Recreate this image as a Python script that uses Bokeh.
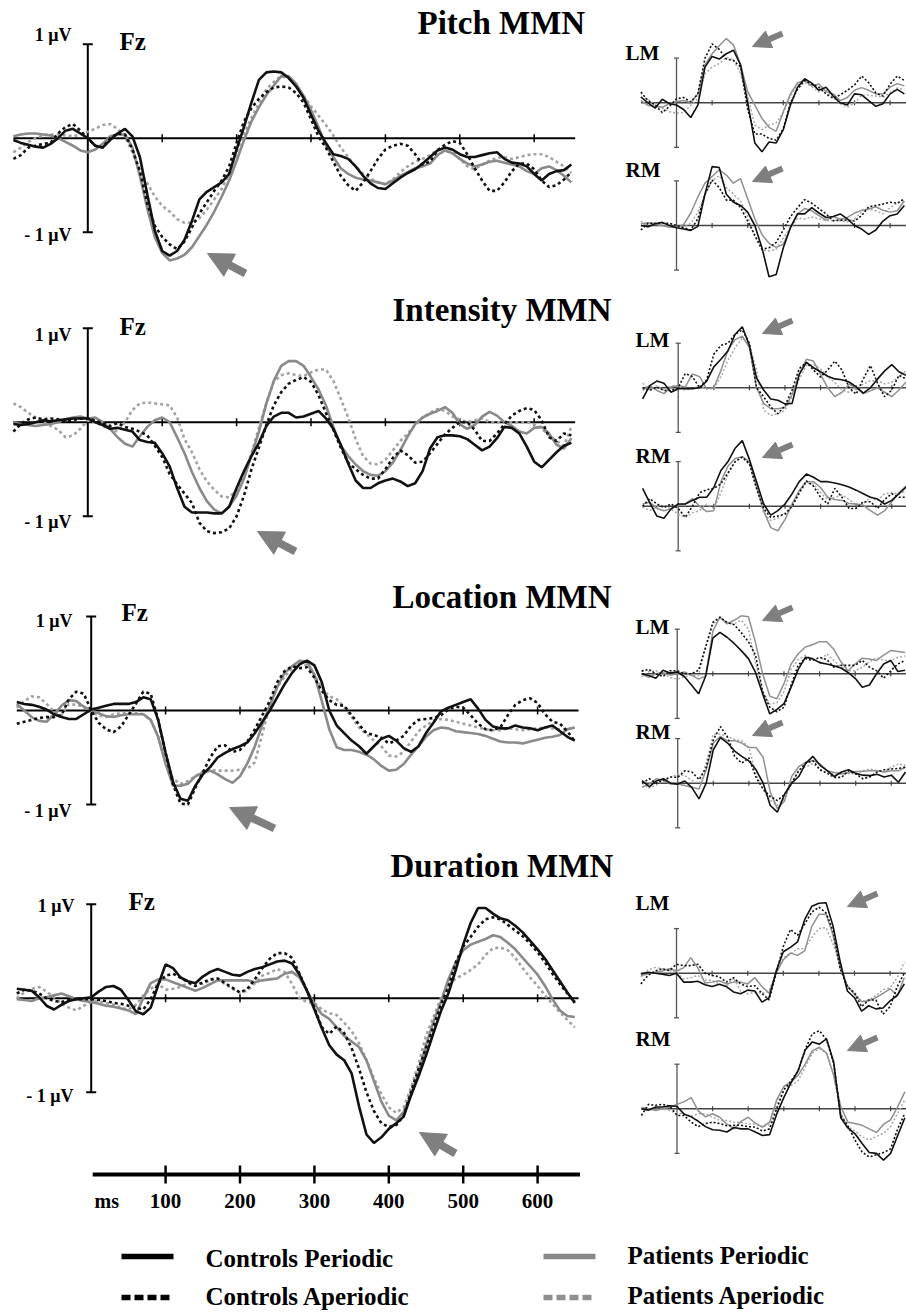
import numpy as np
from bokeh.plotting import figure
from bokeh.models import Range1d, Arrow, NormalHead
from bokeh.embed import file_html
from bokeh.resources import INLINE
from bokeh.core.properties import value

W, H = 906, 1313

# ---------------- time bases (ms) ----------------
T_MAIN = list(range(-100, 651, 10))   # Fz panels
T_SIDE = list(range(-100, 641, 20))   # LM / RM panels
MAIN_TICKS = [100, 200, 300, 400, 500, 600]
BOTTOM_TICK_LABELS = ["100", "200", "300", "400", "500", "600"]
GROUPS = ["Controls Periodic", "Controls Aperiodic", "Patients Periodic", "Patients Aperiodic"]
CONDITIONS = ["Pitch", "Intensity", "Location", "Duration"]

# ---------------- Fz waveforms (µV) ----------------
PITCH_CP = [-0.02,-0.05,-0.07,-0.09,-0.1,-0.06,0.0,0.08,0.1,0.05,
            0.0,-0.08,-0.1,-0.02,0.05,0.1,0.02,-0.2,-0.6,-0.98,
            -1.2,-1.25,-1.2,-1.08,-0.88,-0.65,-0.57,-0.52,-0.47,-0.38,
            -0.12,0.12,0.38,0.62,0.7,0.71,0.7,0.64,0.55,0.43,
            0.25,0.08,-0.05,-0.17,-0.19,-0.22,-0.3,-0.4,-0.48,-0.53,
            -0.54,-0.48,-0.42,-0.37,-0.33,-0.27,-0.2,-0.13,-0.1,-0.12,
            -0.17,-0.2,-0.2,-0.18,-0.16,-0.15,-0.22,-0.26,-0.27,-0.3,
            -0.38,-0.45,-0.38,-0.35,-0.34,-0.28]
PITCH_CA = [-0.22,-0.18,-0.1,-0.08,-0.06,-0.05,0.05,0.12,0.15,0.08,
            0.0,-0.08,-0.1,0.0,0.05,0.04,-0.12,-0.35,-0.7,-0.93,
            -1.05,-1.13,-1.18,-1.1,-0.95,-0.8,-0.68,-0.56,-0.45,-0.3,
            -0.05,0.18,0.32,0.42,0.49,0.54,0.55,0.54,0.48,0.38,
            0.2,0.02,-0.1,-0.25,-0.4,-0.5,-0.56,-0.47,-0.35,-0.22,
            -0.12,-0.08,-0.06,-0.08,-0.17,-0.28,-0.25,-0.13,-0.07,-0.03,
            -0.05,-0.17,-0.32,-0.45,-0.56,-0.56,-0.47,-0.35,-0.27,-0.27,
            -0.33,-0.45,-0.52,-0.5,-0.44,-0.36]
PITCH_PP = [0.02,0.04,0.05,0.05,0.04,0.03,0.0,-0.04,-0.08,-0.13,
            -0.15,-0.12,-0.06,0.02,0.04,0.04,-0.1,-0.4,-0.75,-1.05,
            -1.22,-1.3,-1.28,-1.24,-1.16,-1.04,-0.92,-0.78,-0.62,-0.45,
            -0.24,-0.02,0.18,0.33,0.46,0.56,0.66,0.66,0.58,0.45,
            0.3,0.12,-0.08,-0.2,-0.32,-0.38,-0.42,-0.44,-0.45,-0.47,
            -0.49,-0.45,-0.4,-0.36,-0.32,-0.3,-0.27,-0.18,-0.13,-0.16,
            -0.22,-0.27,-0.3,-0.28,-0.25,-0.24,-0.26,-0.28,-0.3,-0.35,
            -0.38,-0.32,-0.3,-0.34,-0.4,-0.47]
PITCH_PA = [-0.15,-0.1,-0.04,0.0,0.03,0.04,0.04,0.03,0.02,0.04,
            0.07,0.1,0.14,0.15,0.1,0.02,-0.15,-0.35,-0.48,-0.62,
            -0.72,-0.78,-0.86,-0.9,-0.9,-0.85,-0.76,-0.65,-0.54,-0.38,
            -0.15,0.05,0.22,0.37,0.52,0.6,0.66,0.64,0.56,0.45,
            0.34,0.24,0.14,0.03,-0.1,-0.2,-0.3,-0.38,-0.43,-0.47,
            -0.49,-0.44,-0.36,-0.3,-0.25,-0.22,-0.18,-0.12,-0.1,-0.13,
            -0.22,-0.3,-0.33,-0.28,-0.24,-0.21,-0.2,-0.22,-0.2,-0.18,
            -0.17,-0.17,-0.2,-0.25,-0.3,-0.37]

INT_CP = [-0.02,-0.03,-0.02,0.0,0.02,0.01,0.02,0.03,0.04,0.04,
          0.04,0.0,-0.03,-0.07,-0.06,-0.08,-0.1,-0.19,-0.21,-0.22,
          -0.33,-0.47,-0.7,-0.9,-0.96,-0.96,-0.96,-0.97,-0.97,-0.9,
          -0.7,-0.52,-0.36,-0.22,-0.04,0.06,0.1,0.1,0.05,0.06,
          0.09,0.12,0.04,-0.07,-0.24,-0.44,-0.62,-0.7,-0.7,-0.65,
          -0.62,-0.6,-0.63,-0.68,-0.65,-0.52,-0.28,-0.16,-0.14,-0.14,
          -0.15,-0.18,-0.24,-0.3,-0.26,-0.17,-0.05,-0.06,-0.12,-0.26,
          -0.42,-0.48,-0.4,-0.32,-0.25,-0.22]
INT_CA = [-0.1,-0.02,0.03,0.05,0.03,0.04,0.03,0.01,0.02,0.04,
          0.04,0.02,-0.01,-0.04,-0.01,-0.05,-0.07,-0.1,-0.14,-0.25,
          -0.37,-0.55,-0.66,-0.76,-0.86,-1.07,-1.16,-1.18,-1.17,-1.13,
          -1.0,-0.78,-0.5,-0.27,-0.03,0.18,0.32,0.41,0.45,0.48,
          0.43,0.29,0.1,-0.08,-0.27,-0.43,-0.5,-0.56,-0.6,-0.6,
          -0.5,-0.38,-0.3,-0.35,-0.43,-0.42,-0.33,-0.23,-0.13,-0.06,
          0.0,0.0,-0.08,-0.2,-0.2,-0.12,-0.02,0.07,0.12,0.15,
          0.13,0.02,-0.16,-0.2,-0.12,-0.14]
INT_PP = [0.0,-0.02,-0.03,-0.04,-0.03,-0.02,0.0,0.03,0.05,0.06,
          0.04,0.05,0.0,-0.07,-0.16,-0.23,-0.26,-0.15,-0.05,0.02,
          0.05,0.0,-0.16,-0.33,-0.53,-0.7,-0.84,-0.93,-0.97,-0.9,
          -0.78,-0.6,-0.35,-0.1,0.2,0.44,0.6,0.65,0.65,0.6,
          0.48,0.35,0.18,-0.05,-0.25,-0.36,-0.45,-0.52,-0.56,-0.57,
          -0.52,-0.43,-0.3,-0.15,-0.02,0.05,0.09,0.12,0.16,0.1,
          -0.02,-0.07,-0.03,0.06,0.11,0.07,0.0,-0.04,-0.1,-0.12,
          -0.06,-0.05,-0.12,-0.24,-0.28,-0.17]
INT_PA = [0.2,0.16,0.1,0.05,0.0,-0.04,-0.08,-0.16,-0.14,-0.07,
          0.02,0.0,-0.04,-0.07,-0.1,0.0,0.13,0.2,0.21,0.2,
          0.19,0.18,0.05,-0.18,-0.32,-0.5,-0.63,-0.72,-0.79,-0.8,
          -0.72,-0.55,-0.33,-0.06,0.2,0.43,0.5,0.52,0.5,0.49,
          0.53,0.56,0.56,0.44,0.25,0.05,-0.18,-0.36,-0.44,-0.45,
          -0.4,-0.3,-0.2,-0.12,-0.03,0.05,0.1,0.14,0.12,0.06,
          0.03,0.0,0.02,0.04,0.0,0.0,0.0,0.0,0.0,0.0,
          -0.02,-0.07,-0.14,-0.2,-0.25,-0.05]

LOC_CP = [0.09,0.07,0.06,0.04,0.01,-0.04,-0.07,-0.09,-0.09,-0.04,
          0.01,0.03,0.05,0.07,0.07,0.07,0.09,0.14,0.12,-0.1,
          -0.45,-0.76,-0.94,-0.96,-0.8,-0.68,-0.6,-0.5,-0.45,-0.41,
          -0.38,-0.34,-0.24,-0.12,0.0,0.14,0.28,0.4,0.49,0.53,
          0.48,0.3,0.0,-0.16,-0.24,-0.32,-0.38,-0.46,-0.38,-0.3,
          -0.27,-0.32,-0.4,-0.44,-0.38,-0.24,-0.13,-0.01,0.03,0.06,
          0.09,0.12,0.02,-0.1,-0.17,-0.19,-0.19,-0.16,-0.18,-0.19,
          -0.21,-0.18,-0.16,-0.22,-0.28,-0.32]
LOC_CA = [-0.14,-0.12,-0.1,-0.08,-0.07,-0.07,-0.05,0.12,0.2,0.18,
          0.0,-0.13,-0.2,-0.23,-0.17,-0.05,0.07,0.2,0.18,-0.1,
          -0.45,-0.79,-0.99,-1.0,-0.82,-0.66,-0.5,-0.38,-0.37,-0.44,
          -0.42,-0.33,-0.2,-0.05,0.1,0.3,0.42,0.47,0.45,0.46,
          0.35,0.21,0.11,0.06,0.05,-0.05,-0.15,-0.24,-0.26,-0.29,
          -0.35,-0.32,-0.27,-0.16,-0.1,-0.09,-0.08,-0.05,0.01,0.04,
          0.03,-0.05,-0.14,-0.2,-0.21,-0.18,-0.05,0.06,0.11,0.13,
          0.08,-0.04,-0.12,-0.14,-0.22,-0.33]
LOC_PP = [0.07,0.0,-0.07,-0.11,-0.12,-0.04,0.05,0.11,0.1,0.04,
          0.0,-0.03,-0.06,-0.07,-0.05,-0.04,-0.04,-0.04,-0.1,-0.28,
          -0.57,-0.8,-0.8,-0.78,-0.7,-0.66,-0.64,-0.68,-0.73,-0.77,
          -0.7,-0.56,-0.38,-0.15,0.05,0.25,0.4,0.47,0.53,0.52,
          0.38,0.1,-0.2,-0.39,-0.42,-0.42,-0.44,-0.47,-0.52,-0.59,
          -0.64,-0.63,-0.57,-0.47,-0.38,-0.28,-0.21,-0.18,-0.19,-0.22,
          -0.23,-0.24,-0.25,-0.27,-0.3,-0.33,-0.34,-0.34,-0.35,-0.33,
          -0.31,-0.29,-0.28,-0.26,-0.2,-0.18]
LOC_PA = [0.03,0.1,0.15,0.14,0.07,-0.01,-0.05,0.07,0.06,0.04,
          -0.02,-0.05,-0.07,-0.04,-0.03,-0.02,-0.02,-0.04,-0.1,-0.28,
          -0.54,-0.73,-0.78,-0.75,-0.7,-0.65,-0.63,-0.64,-0.64,-0.64,
          -0.63,-0.62,-0.55,-0.25,0.05,0.25,0.36,0.45,0.51,0.48,
          0.38,0.24,0.15,0.12,0.04,-0.07,-0.18,-0.25,-0.32,-0.38,
          -0.48,-0.49,-0.44,-0.33,-0.22,-0.16,-0.11,-0.09,-0.1,-0.12,
          -0.14,-0.16,-0.18,-0.2,-0.21,-0.21,-0.19,-0.2,-0.21,-0.2,
          -0.19,-0.18,-0.19,-0.2,-0.2,-0.18]

DUR_CP = [0.1,0.09,0.08,0.01,-0.08,-0.12,-0.07,-0.03,-0.01,0.0,
          0.01,0.07,0.12,0.13,0.09,-0.02,-0.14,-0.17,-0.1,0.14,
          0.36,0.32,0.22,0.18,0.16,0.23,0.28,0.31,0.28,0.25,
          0.24,0.28,0.31,0.33,0.36,0.39,0.4,0.37,0.25,0.08,
          -0.12,-0.32,-0.5,-0.6,-0.66,-0.8,-1.15,-1.45,-1.54,-1.48,
          -1.39,-1.33,-1.26,-1.03,-0.83,-0.61,-0.37,-0.14,0.05,0.3,
          0.57,0.8,0.96,0.96,0.9,0.85,0.83,0.77,0.7,0.61,
          0.52,0.42,0.3,0.18,0.06,-0.05]
DUR_CA = [0.05,0.09,0.08,0.05,0.0,-0.03,-0.04,-0.02,-0.01,-0.01,
          -0.01,-0.02,-0.03,-0.05,-0.06,-0.08,-0.1,-0.12,-0.01,0.16,
          0.24,0.26,0.22,0.17,0.13,0.17,0.2,0.21,0.16,0.11,
          0.06,0.1,0.2,0.32,0.42,0.48,0.48,0.43,0.26,0.08,
          -0.1,-0.31,-0.38,-0.3,-0.37,-0.53,-0.75,-1.0,-1.2,-1.33,
          -1.37,-1.35,-1.25,-0.99,-0.75,-0.53,-0.3,-0.07,0.12,0.38,
          0.55,0.65,0.76,0.84,0.86,0.84,0.78,0.72,0.66,0.58,
          0.49,0.38,0.26,0.15,0.05,-0.04]
DUR_PP = [-0.01,-0.02,-0.03,0.0,0.01,0.03,0.05,0.02,-0.01,-0.03,
          -0.04,-0.06,-0.08,-0.09,-0.11,-0.13,-0.17,0.0,0.16,0.2,
          0.2,0.17,0.14,0.11,0.08,0.11,0.15,0.19,0.19,0.19,
          0.19,0.19,0.17,0.19,0.2,0.21,0.26,0.28,0.22,0.08,
          -0.06,-0.17,-0.22,-0.31,-0.4,-0.46,-0.52,-0.66,-0.88,-1.1,
          -1.25,-1.3,-1.21,-1.03,-0.8,-0.5,-0.25,-0.04,0.2,0.38,
          0.51,0.57,0.6,0.63,0.67,0.65,0.59,0.52,0.43,0.34,
          0.25,0.13,-0.01,-0.13,-0.19,-0.2]
DUR_PA = [0.0,0.06,0.1,0.12,0.07,0.01,-0.06,-0.1,-0.13,-0.08,
          -0.04,-0.03,-0.05,-0.07,-0.1,-0.12,-0.07,0.03,0.1,0.15,
          0.09,0.1,0.12,0.16,0.16,0.15,0.19,0.2,0.15,0.1,
          0.06,0.08,0.16,0.24,0.27,0.31,0.28,0.15,0.0,-0.04,
          -0.05,-0.12,-0.16,-0.18,-0.26,-0.35,-0.48,-0.66,-0.85,-1.02,
          -1.16,-1.22,-1.16,-0.95,-0.7,-0.4,-0.2,0.0,0.14,0.21,
          0.25,0.3,0.36,0.46,0.53,0.54,0.51,0.43,0.32,0.22,
          0.13,0.03,-0.06,-0.15,-0.23,-0.31]

# ---------------- LM / RM waveforms (units of the axis tick) ----------------
P_LM_CP = [0.13,0.0,-0.12,0.08,-0.02,-0.05,-0.15,-0.33,-0.05,0.8,1.04,0.98,1.1,1.18,0.85,0.0,-0.9,-1.1,-0.88,
           -0.9,-0.6,-0.05,0.35,0.54,0.44,0.28,0.35,0.15,0.0,-0.05,0.2,0.18,0.05,-0.08,-0.02,0.2,0.3,0.2]
P_LM_CA = [0.24,0.05,-0.05,-0.22,-0.08,0.09,0.12,0.02,0.2,1.0,1.32,1.2,0.98,0.95,0.8,-0.15,-0.7,-0.7,-0.8,
           -0.84,-0.58,0.0,0.3,0.5,0.42,0.35,0.2,0.1,0.18,0.28,0.4,0.6,0.45,0.22,0.15,0.42,0.6,0.5]
P_LM_PP = [0.05,-0.06,-0.08,-0.1,-0.02,0.03,0.05,0.0,0.2,0.85,1.1,1.28,1.44,1.3,0.85,0.25,-0.05,-0.35,-0.55,
           -0.64,-0.2,0.2,0.45,0.5,0.38,0.42,0.25,0.2,0.05,0.12,0.28,0.34,0.28,0.2,0.2,0.35,0.43,0.38]
P_LM_PA = [0.13,0.08,-0.04,-0.12,-0.2,-0.23,-0.22,-0.06,0.1,0.65,0.8,0.88,1.02,0.97,0.65,0.15,-0.5,-0.6,-0.5,
           -0.45,-0.22,0.15,0.4,0.46,0.36,0.24,0.28,0.12,-0.02,-0.1,0.0,0.17,0.17,0.15,0.13,0.22,0.33,0.3]
P_RM_CP = [0.0,-0.03,0.04,0.07,0.0,-0.05,-0.08,-0.11,-0.02,0.7,1.32,1.3,0.7,0.52,0.45,0.3,0.0,-0.5,-1.15,
           -1.1,-0.5,-0.05,0.26,0.26,0.4,0.28,0.18,0.2,0.26,0.15,0.0,-0.08,-0.2,-0.1,0.1,0.22,0.26,0.45]
P_RM_CA = [-0.1,0.05,0.05,0.05,0.05,0.0,-0.05,-0.1,0.15,0.7,1.02,0.85,0.57,0.57,0.4,0.1,-0.22,-0.53,-0.5,
           -0.38,-0.1,0.2,0.4,0.58,0.5,0.38,0.26,0.11,0.12,0.12,0.1,0.22,0.42,0.45,0.48,0.52,0.5,0.6]
P_RM_PP = [0.04,0.06,0.04,0.0,-0.04,-0.04,0.02,0.28,0.64,0.95,1.1,1.25,1.13,0.95,1.05,0.6,0.15,-0.2,-0.4,
           -0.49,-0.42,-0.05,0.26,0.38,0.33,0.22,0.12,0.2,0.14,0.18,0.28,0.34,0.37,0.42,0.34,0.3,0.33,0.55]
P_RM_PA = [0.1,-0.04,0.03,-0.01,0.0,-0.01,-0.04,0.05,0.3,0.7,1.0,1.12,0.85,0.7,0.55,0.2,-0.25,-0.55,-0.57,
           -0.53,-0.28,-0.05,0.16,0.15,0.19,0.15,0.11,0.11,0.11,0.08,0.15,0.3,0.37,0.33,0.26,0.4,0.5,0.55]

I_LM_CP = [-0.25,0.05,0.15,0.1,-0.1,-0.02,-0.02,-0.02,0.0,0.15,0.47,0.64,0.83,1.2,1.37,0.95,0.22,-0.05,-0.25,
           -0.28,-0.36,-0.35,0.3,0.57,0.45,0.36,0.26,0.2,0.18,0.13,0.02,-0.12,0.0,0.2,0.38,0.52,0.36,0.28]
I_LM_CA = [0.0,-0.06,0.02,-0.06,-0.06,0.0,0.32,0.25,0.0,0.18,0.75,0.95,1.0,1.2,1.3,1.0,0.0,-0.2,-0.43,
           -0.58,-0.4,-0.05,0.43,0.57,0.4,0.24,0.4,0.6,0.4,0.0,-0.14,0.2,0.5,0.1,-0.2,-0.05,0.28,0.2]
I_LM_PP = [-0.06,0.05,-0.06,-0.13,0.02,0.05,0.02,0.31,0.25,-0.02,0.0,0.39,0.85,1.08,1.16,0.9,0.0,-0.35,-0.47,
           -0.47,-0.44,-0.15,0.3,0.64,0.6,0.3,0.0,-0.2,-0.1,0.08,0.0,-0.13,-0.07,0.0,-0.1,-0.2,-0.05,0.13]
I_LM_PA = [0.1,-0.04,0.05,-0.06,0.05,0.02,-0.05,-0.02,0.05,-0.02,-0.02,0.25,0.62,0.9,1.12,0.95,0.4,-0.5,-0.62,
           -0.58,-0.5,-0.2,0.2,0.5,0.52,0.42,0.25,0.12,-0.05,-0.1,-0.03,0.08,0.16,0.16,0.09,0.12,0.25,0.38]
I_RM_CP = [0.4,0.08,-0.22,-0.27,-0.06,0.05,0.05,0.13,0.2,0.2,0.42,0.8,1.0,1.3,1.47,1.05,0.55,0.05,-0.2,
           -0.1,0.05,0.28,0.55,0.72,0.65,0.55,0.55,0.52,0.48,0.43,0.36,0.28,0.2,0.16,0.05,0.13,0.28,0.43]
I_RM_CA = [0.0,0.17,0.05,-0.03,0.05,-0.05,-0.25,0.0,0.3,0.37,0.4,0.5,0.75,1.0,1.1,0.95,0.4,-0.05,-0.25,
           -0.22,-0.18,0.0,0.3,0.57,0.45,0.2,0.05,0.4,0.2,-0.05,-0.05,0.1,0.1,-0.05,0.15,0.28,0.2,0.2]
I_RM_PP = [0.05,0.09,-0.05,-0.1,-0.06,0.02,0.05,0.17,0.0,-0.12,-0.1,0.55,0.9,1.07,1.11,1.0,0.45,-0.1,-0.48,
           -0.55,-0.3,0.05,0.35,0.55,0.55,0.42,0.2,0.15,0.13,0.06,0.05,0.02,-0.1,-0.2,-0.1,0.1,0.3,0.45]
I_RM_PA = [-0.02,-0.1,-0.02,0.02,-0.06,-0.18,-0.25,-0.15,-0.1,0.05,-0.05,0.3,0.72,1.0,1.1,0.95,0.4,-0.15,-0.32,
           -0.27,-0.15,0.0,0.3,0.52,0.5,0.3,0.15,0.2,0.25,0.15,0.02,0.05,0.2,0.13,0.28,0.3,0.27,0.35]

L_LM_CP = [0.0,-0.04,-0.1,0.08,0.02,0.04,-0.06,-0.25,-0.45,-0.05,0.8,0.93,0.82,0.68,0.52,0.34,0.03,-0.45,-0.9,
           -0.8,-0.67,-0.3,0.1,0.37,0.34,0.25,0.22,0.18,0.13,0.03,-0.1,-0.3,-0.25,0.0,0.22,0.3,0.05,0.08]
L_LM_CA = [0.06,0.1,0.0,-0.06,0.07,0.07,0.0,0.0,0.08,0.6,1.15,1.27,1.15,1.1,0.92,0.72,0.42,-0.4,-0.75,
           -0.85,-0.75,-0.25,0.2,0.34,0.3,0.37,0.32,0.15,0.19,0.19,0.19,0.3,0.15,0.07,-0.1,0.07,0.22,0.3]
L_LM_PP = [0.0,-0.08,0.0,0.03,-0.03,0.0,0.04,-0.03,-0.12,-0.05,0.95,1.27,1.12,1.2,1.3,1.28,0.7,0.0,-0.5,
           -0.56,-0.22,0.22,0.45,0.6,0.65,0.72,0.72,0.55,0.27,0.07,0.22,0.35,0.33,0.3,0.42,0.52,0.5,0.48]
L_LM_PA = [-0.07,0.05,0.07,0.0,-0.08,-0.12,-0.07,-0.03,-0.04,0.6,1.1,1.25,1.15,1.12,1.2,1.0,0.25,-0.4,-0.68,
           -0.65,-0.4,0.1,0.32,0.41,0.33,0.27,0.45,0.3,0.15,0.07,0.07,0.15,0.27,0.36,0.3,0.3,0.37,0.4]
L_RM_CP = [0.06,-0.08,0.05,0.1,0.0,-0.02,0.05,-0.1,-0.35,0.0,0.75,1.02,0.9,0.72,0.6,0.5,0.3,0.0,-0.5,
           -0.65,-0.25,0.0,0.15,0.45,0.6,0.4,0.28,0.15,0.25,0.3,0.22,0.18,0.17,0.2,0.14,0.18,0.02,0.25]
L_RM_CA = [0.0,0.1,0.0,0.07,0.14,0.13,0.28,0.25,0.08,0.35,0.97,1.27,1.03,0.6,0.45,0.57,0.13,-0.13,-0.3,
           -0.39,-0.25,0.0,0.28,0.45,0.5,0.3,0.22,0.13,0.13,0.28,0.21,0.1,0.14,0.25,0.3,0.32,0.33,0.36]
L_RM_PP = [-0.09,-0.02,0.1,0.06,-0.02,-0.02,-0.05,-0.09,-0.13,0.3,0.9,1.05,0.95,0.95,0.9,0.8,0.8,0.58,-0.2,
           -0.57,-0.4,0.15,0.37,0.47,0.51,0.43,0.28,0.24,0.21,0.24,0.26,0.27,0.28,0.28,0.25,0.28,0.28,0.36]
L_RM_PA = [0.0,-0.11,-0.04,0.06,0.13,0.2,0.17,0.06,0.0,0.45,1.1,1.1,1.05,0.98,0.95,0.8,0.2,-0.15,-0.38,
           -0.5,-0.35,0.0,0.3,0.37,0.44,0.3,0.23,0.2,0.2,0.21,0.21,0.28,0.32,0.28,0.25,0.36,0.43,0.4]

D_LM_CP = [-0.02,0.02,0.0,-0.02,-0.05,0.0,-0.2,-0.2,-0.18,-0.26,-0.3,-0.25,-0.3,-0.42,-0.46,-0.38,-0.4,-0.65,-0.55,
           0.05,0.48,0.58,0.7,1.2,1.5,1.57,1.58,1.05,0.25,-0.4,-0.55,-0.85,-0.73,-0.8,-0.78,-0.62,-0.5,-0.24]
D_LM_CA = [-0.24,-0.05,0.05,0.1,0.06,0.2,0.17,0.17,0.2,0.0,-0.05,-0.08,-0.2,-0.1,-0.24,-0.3,-0.28,-0.45,-0.6,
           0.0,0.6,0.98,0.85,1.1,1.37,1.48,1.35,0.95,0.1,-0.3,-0.45,-0.75,-0.6,-0.6,-0.92,-0.75,-0.3,0.0]
D_LM_PP = [-0.05,-0.02,0.02,0.05,0.1,0.05,0.12,0.35,0.12,-0.22,-0.2,-0.17,-0.24,-0.2,-0.2,-0.24,-0.1,-0.3,-0.45,
           0.0,0.3,0.45,0.4,0.5,1.05,1.32,1.32,0.85,0.1,-0.28,-0.47,-0.64,-0.62,-0.55,-0.45,-0.35,-0.5,-0.1]
D_LM_PA = [-0.08,0.07,0.13,0.1,0.06,0.02,-0.13,-0.1,-0.05,-0.15,-0.16,-0.24,-0.3,-0.1,-0.4,-0.46,-0.43,-0.45,-0.4,
           0.0,0.35,0.43,0.55,0.55,0.8,1.0,1.02,0.65,0.2,-0.32,-0.42,-0.63,-0.6,-0.5,-0.37,-0.33,-0.1,0.25]
D_RM_CP = [0.0,-0.03,0.04,0.04,0.07,0.05,-0.12,-0.18,-0.28,-0.4,-0.47,-0.48,-0.52,-0.42,-0.45,-0.45,-0.52,-0.6,-0.58,
           -0.12,0.25,0.58,0.85,1.32,1.5,1.45,1.57,1.05,-0.2,-0.43,-0.56,-0.78,-0.98,-1.0,-1.15,-1.0,-0.6,-0.2]
D_RM_CA = [-0.15,0.1,0.08,0.1,0.06,-0.15,-0.15,-0.3,-0.4,-0.33,-0.3,-0.33,-0.38,-0.37,-0.37,-0.4,-0.41,-0.5,-0.45,
           0.0,0.42,0.62,0.85,1.33,1.68,1.75,1.55,1.02,-0.15,-0.38,-0.7,-0.97,-1.08,-1.03,-0.98,-0.9,-0.45,-0.1]
D_RM_PP = [0.03,0.0,-0.04,0.0,0.04,0.1,0.16,0.25,-0.05,-0.18,-0.11,-0.19,-0.34,-0.45,-0.28,-0.19,-0.32,-0.41,-0.3,
           0.2,0.5,0.6,0.75,1.0,1.3,1.38,1.25,0.75,0.05,-0.3,-0.33,-0.37,-0.45,-0.53,-0.35,-0.25,0.05,0.38]
D_RM_PA = [0.0,-0.04,0.03,0.0,-0.04,-0.1,-0.11,-0.17,-0.11,-0.11,-0.19,-0.26,-0.26,-0.3,-0.3,-0.34,-0.34,-0.41,-0.35,
           0.1,0.45,0.52,0.63,0.93,1.25,1.35,1.25,0.75,-0.1,-0.4,-0.5,-0.63,-0.7,-0.62,-0.55,-0.4,-0.1,0.2]

MAIN_DATA = {
    "Pitch": [PITCH_CP, PITCH_CA, PITCH_PP, PITCH_PA],
    "Intensity": [INT_CP, INT_CA, INT_PP, INT_PA],
    "Location": [LOC_CP, LOC_CA, LOC_PP, LOC_PA],
    "Duration": [DUR_CP, DUR_CA, DUR_PP, DUR_PA],
}
SIDE_DATA = {
    ("Pitch", "LM"): [P_LM_CP, P_LM_CA, P_LM_PP, P_LM_PA],
    ("Pitch", "RM"): [P_RM_CP, P_RM_CA, P_RM_PP, P_RM_PA],
    ("Intensity", "LM"): [I_LM_CP, I_LM_CA, I_LM_PP, I_LM_PA],
    ("Intensity", "RM"): [I_RM_CP, I_RM_CA, I_RM_PP, I_RM_PA],
    ("Location", "LM"): [L_LM_CP, L_LM_CA, L_LM_PP, L_LM_PA],
    ("Location", "RM"): [L_RM_CP, L_RM_CA, L_RM_PP, L_RM_PA],
    ("Duration", "LM"): [D_LM_CP, D_LM_CA, D_LM_PP, D_LM_PA],
    ("Duration", "RM"): [D_RM_CP, D_RM_CA, D_RM_PP, D_RM_PA],
}
for k, v in MAIN_DATA.items():
    for s in v:
        assert len(s) == len(T_MAIN), (k, len(s))
for k, v in SIDE_DATA.items():
    for s in v:
        assert len(s) == len(T_SIDE), (k, len(s))

# ---------------- layout (page pixels) ----------------
MAIN_GEOM = {"Pitch": (87.3, 137.7), "Intensity": (87.3, 421.7),
             "Location": (90.7, 710.0), "Duration": (90.7, 997.7)}
MAIN_SX, MAIN_SY = 0.744, 94.0
SIDE_GEOM = {("Pitch", "LM"): (676.0, 102.3), ("Pitch", "RM"): (676.0, 225.0),
             ("Intensity", "LM"): (677.7, 387.3), ("Intensity", "RM"): (677.7, 505.7),
             ("Location", "LM"): (676.7, 673.3), ("Location", "RM"): (677.2, 782.7),
             ("Duration", "LM"): (676.0, 972.7), ("Duration", "RM"): (676.5, 1108.3)}
SIDE_SX, SIDE_SY = 0.356, 44.6

FONT = value("Liberation Serif")
BLACK = "#111111"
GRAY = "#8a8a8a"
GRAY_LIGHT = "#a2a2a2"
ARROW_C = "#7f7f7f"

p = figure(width=W, height=H, x_range=Range1d(0, W), y_range=Range1d(H, 0),
           output_backend="svg", toolbar_location=None, min_border=0,
           x_axis_location=None, y_axis_location=None)
p.grid.visible = False
p.outline_line_color = None
p.background_fill_color = "white"
p.border_fill_color = "white"

xr, yr = {}, {}
def rng(name, x0, sx, y0, sy):
    xr[name] = Range1d((0 - x0) / sx, (W - x0) / sx)
    yr[name] = Range1d((y0 - H) / sy, y0 / sy)

for k, (x0, y0) in MAIN_GEOM.items():
    rng(k, x0, MAIN_SX, y0, MAIN_SY)
for (c, s), (x0, y0) in SIDE_GEOM.items():
    rng(c + s, x0, SIDE_SX, y0, SIDE_SY)
p.extra_x_ranges = xr
p.extra_y_ranges = yr

MAIN_STYLES = [dict(line_color=BLACK, line_width=2.6),
               dict(line_color=BLACK, line_width=2.6, line_dash="3 3"),
               dict(line_color=GRAY, line_width=2.6),
               dict(line_color=GRAY_LIGHT, line_width=2.6, line_dash="3 3")]
SIDE_STYLES = [dict(line_color=BLACK, line_width=1.6),
               dict(line_color=BLACK, line_width=1.6, line_dash="2 2"),
               dict(line_color="#909090", line_width=1.5),
               dict(line_color="#a8a8a8", line_width=1.5, line_dash="2 2")]
DRAW_ORDER = [3, 2, 1, 0]

# ---- Fz panels
for cond in CONDITIONS:
    kw = dict(x_range_name=cond, y_range_name=cond)
    p.segment(x0=[-100], y0=[0], x1=[655], y1=[0], line_color="black", line_width=2, **kw)
    p.scatter(x=MAIN_TICKS, y=[0] * len(MAIN_TICKS), marker="dash", angle=np.pi / 2, size=8,
              line_color="black", line_width=1.5, **kw)
    p.segment(x0=[0], y0=[-1], x1=[0], y1=[1], line_color="black", line_width=2, **kw)
    p.scatter(x=[0, 0], y=[-1, 1], marker="dash", size=10, line_color="black", line_width=2, **kw)
    for i in DRAW_ORDER:
        p.line(T_MAIN, MAIN_DATA[cond][i], **MAIN_STYLES[i], **kw)

# ---- LM / RM panels
for (cond, side), series in SIDE_DATA.items():
    name = cond + side
    kw = dict(x_range_name=name, y_range_name=name)
    p.segment(x0=[-100], y0=[0], x1=[700], y1=[0], line_color="#444444", line_width=1.4, **kw)
    p.scatter(x=MAIN_TICKS, y=[0] * len(MAIN_TICKS), marker="dash", angle=np.pi / 2, size=5,
              line_color="#444444", line_width=1.2, **kw)
    p.segment(x0=[0], y0=[-1], x1=[0], y1=[1], line_color="#555555", line_width=1.3, **kw)
    p.scatter(x=[0, 0], y=[-1, 1], marker="dash", size=5, line_color="#555555", line_width=1.3, **kw)
    for i in DRAW_ORDER:
        p.line(T_SIDE, series[i], **SIDE_STYLES[i], **kw)

# ---- texts (page coordinates, vertically centred)
TXT = dict(text_font=FONT, text_font_style="bold", text_color="black", text_baseline="middle")
TITLES = ["Pitch MMN", "Intensity MMN", "Location MMN", "Duration MMN"]
p.text(x=[417, 392, 392, 390], y=[22.5, 309, 596, 865], text=TITLES,
       text_font_size="33px", text_align="left", **TXT)
p.text(x=[119, 119, 121, 128], y=[41, 326, 611.5, 900.5], text=["Fz"] * 4,
       text_font_size="25px", text_align="left", **TXT)
p.text(x=[71, 71, 72, 74], y=[34.5, 334, 620, 905], text=["1 μV"] * 4,
       text_font_size="18px", text_align="right", **TXT)
p.text(x=[71, 71, 71, 73], y=[234, 521.5, 810, 1095.5], text=["- 1 μV"] * 4,
       text_font_size="18px", text_align="right", **TXT)
p.text(x=[625, 625, 635, 635, 635, 635, 635, 635],
       y=[52.5, 169, 339, 455, 626.5, 731.5, 902.5, 1038],
       text=["LM", "RM"] * 4, text_font_size="21px", text_align="left", **TXT)

# ---- arrows (page coordinates: tail -> tip)
MAIN_ARROWS = [((245, 273), (207, 253)), ((295, 551), (257, 531)),
               ((274, 828), (229, 807)), ((455, 1153), (419, 1132))]
SIDE_ARROWS = [((782, 33), (752, 46)), ((782, 168), (752, 181)),
               ((792, 320), (762, 333)), ((792, 444), (762, 457)),
               ((792, 607), (762, 620)), ((782, 722), (752, 735)),
               ((877, 893), (847, 906)), ((877, 1037), (847, 1050))]
for (xs, ys), (xe, ye) in MAIN_ARROWS:
    p.add_layout(Arrow(end=NormalHead(size=25, fill_color=ARROW_C, line_color=ARROW_C),
                       x_start=xs, y_start=ys, x_end=xe, y_end=ye,
                       line_color=ARROW_C, line_width=8))
for (xs, ys), (xe, ye) in SIDE_ARROWS:
    p.add_layout(Arrow(end=NormalHead(size=18, fill_color=ARROW_C, line_color=ARROW_C),
                       x_start=xs, y_start=ys, x_end=xe, y_end=ye,
                       line_color=ARROW_C, line_width=6))

# ---- bottom time axis (Duration panel's time scale)
AX_Y = 1174
p.segment(x0=[2], y0=[AX_Y], x1=[657], y1=[AX_Y], x_range_name="Duration",
          line_color="black", line_width=4)
p.segment(x0=MAIN_TICKS, y0=[AX_Y - 9] * 6, x1=MAIN_TICKS, y1=[AX_Y + 9] * 6,
          x_range_name="Duration", line_color="black", line_width=2.5)
p.text(x=MAIN_TICKS, y=[1200] * 6, text=BOTTOM_TICK_LABELS, x_range_name="Duration",
       text_font_size="21px", text_align="center", **TXT)
p.text(x=[94], y=[1200], text=["ms"], text_font_size="20px", text_align="left", **TXT)

# ---- legend
LEG_X = [121, 121, 543, 543]
LEG_Y = [1256, 1297, 1256, 1297]
LEG_TX = [205, 205, 627, 627]
LEG_TY = [1258, 1296, 1255, 1295]
LEG_STYLE = [dict(line_color="black"), dict(line_color="black", line_dash="9 4"),
             dict(line_color="#888888"), dict(line_color="#8f8f8f", line_dash="9 4")]
for i in range(4):
    p.segment(x0=[LEG_X[i]], y0=[LEG_Y[i]], x1=[LEG_X[i] + 52], y1=[LEG_Y[i]],
              line_width=5.5, **LEG_STYLE[i])
p.text(x=LEG_TX, y=LEG_TY, text=GROUPS, text_font_size="25px", text_align="left", **TXT)

open("out.html", "w").write(file_html(p, INLINE))
